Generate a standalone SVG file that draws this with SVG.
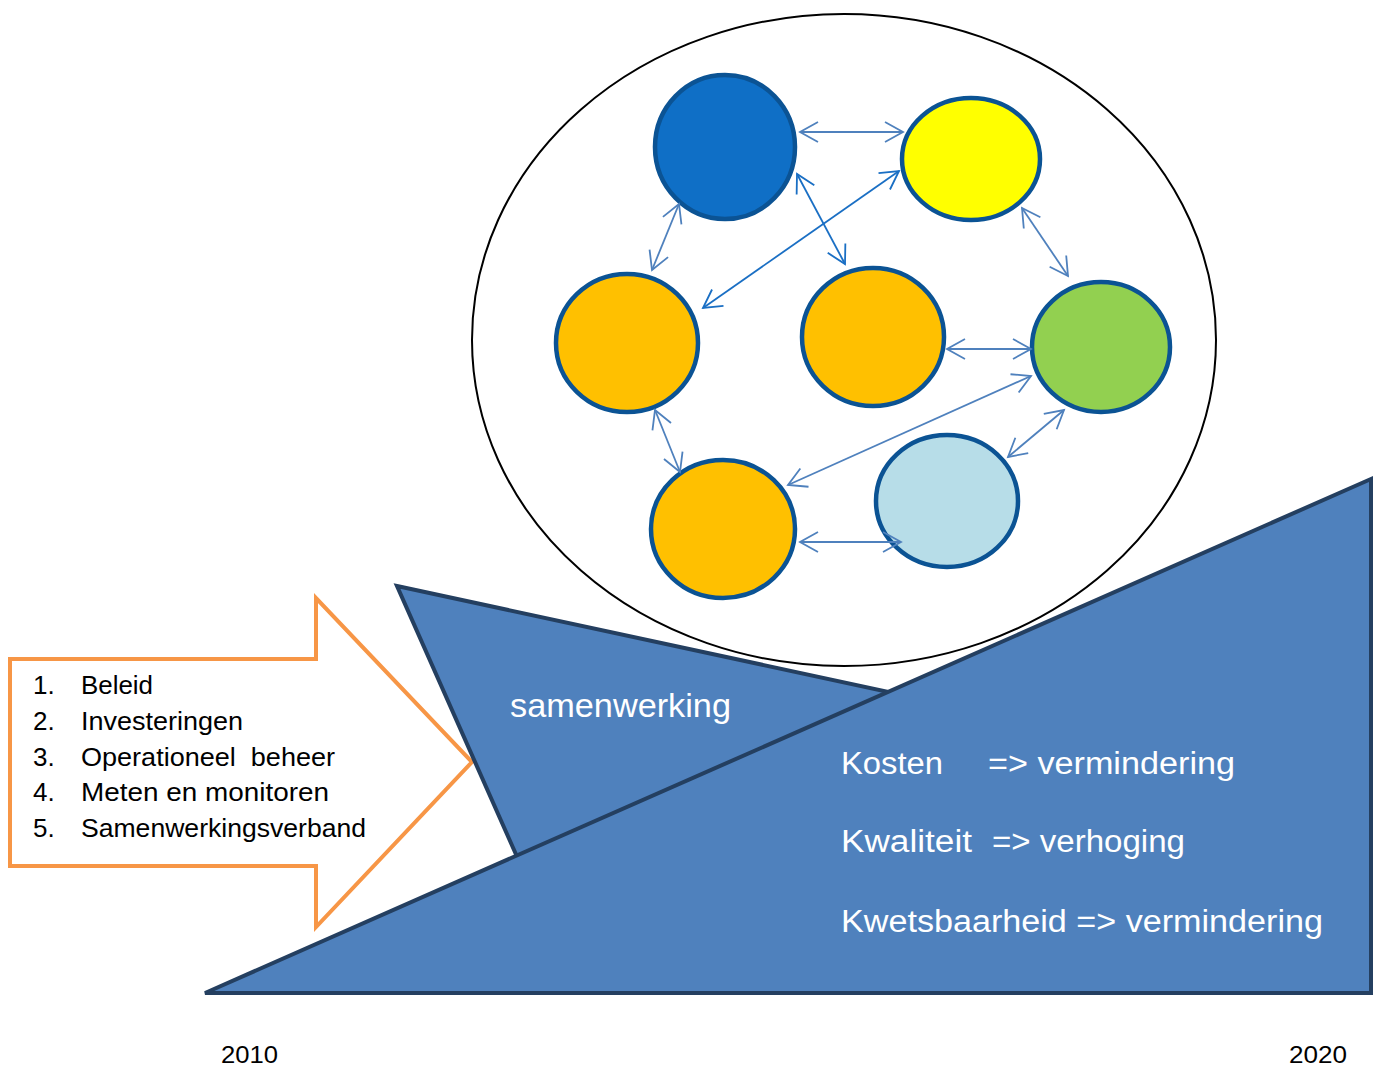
<svg xmlns="http://www.w3.org/2000/svg" width="1382" height="1070" viewBox="0 0 1382 1070">
<style>
.node{stroke:#0B5394;stroke-width:4.5}
.lk{fill:none;stroke:#4F81BD;stroke-width:1.8}
.dk{fill:none;stroke:#1A6FC4;stroke-width:1.8}
.t{font-family:"Liberation Sans",Arial,sans-serif}
.w{fill:#FFFFFF}
.b{fill:#000000}
.tri{fill:#4F81BD;stroke:#243F60;stroke-width:4;stroke-linejoin:miter}
</style>
<defs>
<marker id="al" markerUnits="userSpaceOnUse" orient="auto-start-reverse" overflow="visible" markerWidth="1" markerHeight="1" refX="0" refY="0"><path d="M-18,-10 L0,0 L-18,10" fill="none" stroke="#4F81BD" stroke-width="1.8"/></marker>
<marker id="ad" markerUnits="userSpaceOnUse" orient="auto-start-reverse" overflow="visible" markerWidth="1" markerHeight="1" refX="0" refY="0"><path d="M-18,-10 L0,0 L-18,10" fill="none" stroke="#1A6FC4" stroke-width="1.8"/></marker>
</defs>
<rect width="1382" height="1070" fill="#FFFFFF"/>

<g id="cluster">
<ellipse cx="844" cy="340" rx="372" ry="326" fill="#FFFFFF" stroke="#000000" stroke-width="2"/>
</g>

<g id="node-blue"><ellipse class="node" cx="725" cy="147" rx="70" ry="72" fill="#0F6FC6"/></g>
<g id="node-yellow"><ellipse class="node" cx="971" cy="159" rx="69" ry="61" fill="#FFFF00"/></g>
<g id="node-orange-left"><ellipse class="node" cx="627" cy="343" rx="71" ry="69" fill="#FFC000"/></g>
<g id="node-orange-mid"><ellipse class="node" cx="873" cy="337" rx="71" ry="69" fill="#FFC000"/></g>
<g id="node-green"><ellipse class="node" cx="1101" cy="347" rx="69" ry="65" fill="#92D050"/></g>
<g id="node-lightblue"><ellipse class="node" cx="947" cy="501" rx="71" ry="66" fill="#B7DDE8"/></g>
<g id="node-orange-bottom"><ellipse class="node" cx="723" cy="529" rx="72" ry="69" fill="#FFC000"/></g>

<g id="connectors">
<line class="lk" x1="800" y1="132" x2="903" y2="132" marker-start="url(#al)" marker-end="url(#al)"/>
<line class="dk" x1="797" y1="174" x2="845" y2="264" marker-start="url(#ad)" marker-end="url(#ad)"/>
<line class="dk" x1="703" y1="308" x2="899" y2="171" marker-start="url(#ad)" marker-end="url(#ad)"/>
<line class="lk" x1="679" y1="204" x2="652" y2="270" marker-start="url(#al)" marker-end="url(#al)"/>
<line class="lk" x1="1022" y1="208" x2="1068" y2="276" marker-start="url(#al)" marker-end="url(#al)"/>
<line class="lk" x1="947" y1="349" x2="1031" y2="349" marker-start="url(#al)" marker-end="url(#al)"/>
<line class="lk" x1="788" y1="485" x2="1031" y2="376" marker-start="url(#al)" marker-end="url(#al)"/>
<line class="lk" x1="1008" y1="457" x2="1064" y2="410" marker-start="url(#al)" marker-end="url(#al)"/>
<line class="lk" x1="655" y1="410" x2="680" y2="472" marker-start="url(#al)" marker-end="url(#al)"/>
<line class="lk" x1="800" y1="542" x2="901" y2="542" marker-start="url(#al)" marker-end="url(#al)"/>
</g>

<g id="block-arrow">
<polygon points="10,659 316,659 316,598 472,762 316,927 316,866 10,866" fill="#FFFFFF" stroke="#F79646" stroke-width="4"/>
<text class="t b" font-size="26"><tspan x="33" y="694">1.</tspan><tspan x="81" y="694" textLength="72" lengthAdjust="spacingAndGlyphs">Beleid</tspan></text>
<text class="t b" font-size="26"><tspan x="33" y="730">2.</tspan><tspan x="81" y="730" textLength="162" lengthAdjust="spacingAndGlyphs">Investeringen</tspan></text>
<text class="t b" font-size="26"><tspan x="33" y="766">3.</tspan><tspan x="81" y="766" xml:space="preserve" textLength="254" lengthAdjust="spacingAndGlyphs">Operationeel  beheer</tspan></text>
<text class="t b" font-size="26"><tspan x="33" y="801">4.</tspan><tspan x="81" y="801" textLength="248" lengthAdjust="spacingAndGlyphs">Meten en monitoren</tspan></text>
<text class="t b" font-size="26"><tspan x="33" y="837">5.</tspan><tspan x="81" y="837" textLength="285" lengthAdjust="spacingAndGlyphs">Samenwerkingsverband</tspan></text>
</g>

<g id="samenwerking">
<polygon class="tri" points="397,586 1000,716 530,886"/>
<text class="t w" x="510" y="717" font-size="33" textLength="221" lengthAdjust="spacingAndGlyphs">samenwerking</text>
</g>

<g id="growth">
<polygon class="tri" points="205,993 1371,479 1371,993"/>
<text class="t w" x="841" y="774" font-size="31" textLength="102" lengthAdjust="spacingAndGlyphs">Kosten</text>
<text class="t w" x="988" y="774" font-size="31" textLength="247" lengthAdjust="spacingAndGlyphs">=&gt; vermindering</text>
<text class="t w" x="841" y="852" font-size="31" textLength="131" lengthAdjust="spacingAndGlyphs">Kwaliteit</text>
<text class="t w" x="992" y="852" font-size="31" textLength="193" lengthAdjust="spacingAndGlyphs">=&gt; verhoging</text>
<text class="t w" x="841" y="932" font-size="31" textLength="482" lengthAdjust="spacingAndGlyphs">Kwetsbaarheid =&gt; vermindering</text>
</g>

<g id="years">
<text class="t b" x="221" y="1063" font-size="24" textLength="57" lengthAdjust="spacingAndGlyphs">2010</text>
<text class="t b" x="1289" y="1063" font-size="24" textLength="58" lengthAdjust="spacingAndGlyphs">2020</text>
</g>
</svg>
